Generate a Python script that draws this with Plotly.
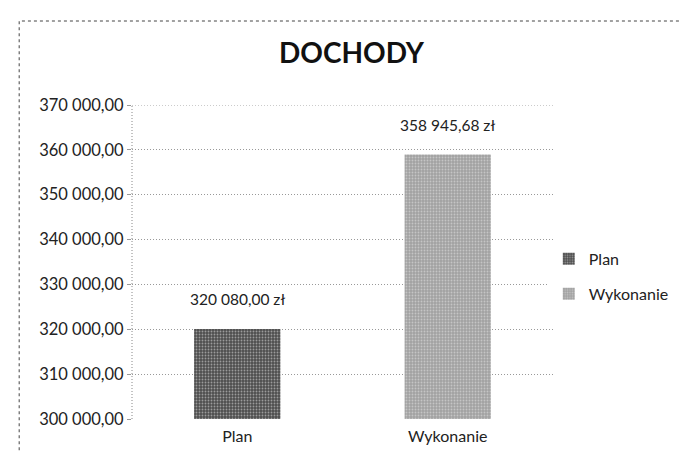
import plotly.graph_objects as go

categories = ["Plan", "Wykonanie"]
values = [320080.00, 358945.68]
value_labels = ["320 080,00 zł", "358 945,68 zł"]
tick_vals = [300000, 310000, 320000, 330000, 340000, 350000, 360000, 370000]
tick_text = ["300 000,00", "310 000,00", "320 000,00", "330 000,00",
             "340 000,00", "350 000,00", "360 000,00", "370 000,00"]
colors = ["#4e4e4e", "#a2a2a2"]

FONT = "Lato, 'Open Sans', sans-serif"

fig = go.Figure()
for cat, val, col in zip(categories, values, colors):
    fig.add_trace(go.Bar(
        x=[cat], y=[val], name=cat, legendgroup=cat,
        marker=dict(color=col, line=dict(width=0),
                    pattern=dict(shape=".", fgcolor="#e8e8e8", size=3, solidity=0.3)),
        width=0.41,
    ))

for cat, val, lab in zip(categories, values, value_labels):
    fig.add_annotation(x=cat, y=val, text=lab, showarrow=False,
                       yanchor="bottom", yshift=19,
                       font=dict(family=FONT, size=15.5, color="#222"))

# outer dotted chart border
fig.add_shape(type="rect", xref="paper", yref="paper",
              x0=-0.268, x1=1.330, y0=-0.16, y1=1.2675,
              line=dict(color="#444", width=1, dash="dot"))
# dotted vertical axis line
fig.add_shape(type="line", xref="paper", yref="paper",
              x0=0, x1=0, y0=0, y1=1,
              line=dict(color="#888", width=1, dash="1px,2px"))
# top gridline at the range edge
fig.add_shape(type="line", xref="paper", yref="y",
              x0=0, x1=1, y0=tick_vals[-1], y1=tick_vals[-1],
              line=dict(color="#999", width=1, dash="1px,2px"), layer="below")

fig.update_layout(
    width=687, height=453,
    margin=dict(l=124, r=142, t=97, b=42),
    paper_bgcolor="white", plot_bgcolor="white",
    title=dict(text="<b>DOCHODY</b>", x=0.5, xanchor="center", y=0.90, yanchor="middle",
               font=dict(family=FONT, size=28, color="#111")),
    font=dict(family=FONT, size=15, color="#222"),
    showlegend=True,
    legend=dict(x=0.99, y=0.454, yanchor="middle", xanchor="left",
                font=dict(family=FONT, size=16, color="#222"),
                itemwidth=30, tracegroupgap=11),
    xaxis=dict(showgrid=False, showline=False, ticks="",
               tickfont=dict(family=FONT, size=16), ticklabelstandoff=6),
    yaxis=dict(range=[300000, 370000], tickvals=tick_vals, ticktext=tick_text,
               showgrid=True, gridcolor="#999", griddash="1px,2px", gridwidth=1,
               showline=False,
               ticks="outside", ticklen=4, tickcolor="#999",
               tickfont=dict(family=FONT, size=16.5), zeroline=False),
)

fig.write_html("out.html")
